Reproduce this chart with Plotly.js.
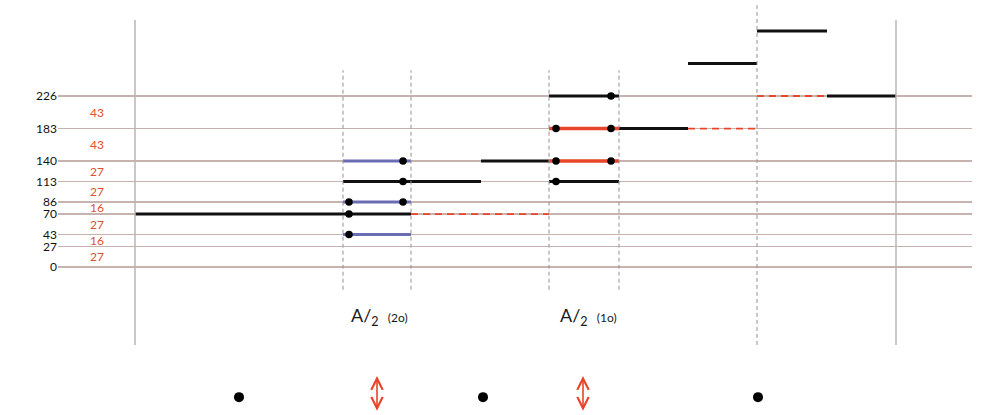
<!DOCTYPE html>
<html><head><meta charset="utf-8">
<script src="https://cdn.plot.ly/plotly-3.0.1.min.js"></script>
<style>html,body{margin:0;padding:0;background:#fff}</style>
</head><body><div id="chart" style="width:981px;height:415px"></div>
<script>
// Levels (horizontal reference lines)
const levels = [0, 27, 43, 70, 86, 113, 140, 183, 226];
// Gap labels between consecutive levels
const gapLabels = ['27', '16', '27', '16', '27', '27', '43', '43'];
// Column boundaries (horizontal positions)
const cols = [135, 343, 411, 481, 549, 619, 688, 757, 827, 896];
// Segments: start column, end column, level, kind
const segStart = [135, 411, 343, 343, 343, 343, 481, 549, 549, 549, 619, 688, 549, 688, 757, 757, 827];
const segEnd   = [411, 549, 411, 481, 411, 411, 549, 619, 619, 619, 688, 757, 619, 757, 827, 827, 896];
const segLevel = [70, 70, 140, 113, 86, 43, 140, 140, 113, 183, 183, 183, 226, 269, 312, 226, 226];
const segKind  = ['black','reddash','blue','black','blue','blue','black','red','black','red','black','reddash','black','black','black','reddash','black'];
// Dots on segments
const dotX = [403, 403, 349, 403, 349, 349, 556, 611, 556, 556, 611, 611];
const dotY = [140, 113, 86, 86, 70, 43, 140, 140, 113, 183, 183, 226];
// Bottom row markers
const bottomDotX = [239, 483, 758];
const arrowX = [377, 583];
const bottomRow = -172;
// Labels
const amplLabelX = [379, 588];
const amplLabelText = ['(2o)', '(1o)'];

const styles = {
  black:   {color: '#111', width: 3, dash: 'solid'},
  blue:    {color: '#6a6db3', width: 3, dash: 'solid'},
  red:     {color: '#e8452a', width: 3.5, dash: 'solid'},
  reddash: {color: '#e8452a', width: 1.8, dash: '7px,5px'}
};

const traces = [];
Object.keys(styles).forEach(k => {
  const xs = [], ys = [];
  segKind.forEach((kind, i) => {
    if (kind === k) { xs.push(segStart[i], segEnd[i], null); ys.push(segLevel[i], segLevel[i], null); }
  });
  traces.push({x: xs, y: ys, mode: 'lines', line: styles[k], hoverinfo: 'skip', showlegend: false});
});
traces.push({x: dotX, y: dotY, mode: 'markers', marker: {color: '#000', size: 7.5}, hoverinfo: 'skip', showlegend: false});
traces.push({x: bottomDotX, y: bottomDotX.map(() => bottomRow), mode: 'markers', marker: {color: '#000', size: 10}, hoverinfo: 'skip', showlegend: false});

const shapes = [];
// solid vertical boundaries
[cols[0], cols[9]].forEach(x => shapes.push({type: 'line', xref: 'x', yref: 'y', x0: x, x1: x, y0: -103, y1: 326.5, line: {color: '#bdb3b1', width: 1.5}}));
// dashed verticals
[cols[1], cols[2], cols[4], cols[5]].forEach(x => shapes.push({type: 'line', xref: 'x', yref: 'y', x0: x, x1: x, y0: -30, y1: 260, line: {color: '#9a9090', width: 1, dash: '4px,3px'}}));
shapes.push({type: 'line', xref: 'x', yref: 'y', x0: cols[7], x1: cols[7], y0: -103, y1: 346, line: {color: '#9a9090', width: 1, dash: '4px,3px'}});

const annotations = [];
gapLabels.forEach((t, i) => annotations.push({
  x: 97, y: (levels[i] + levels[i + 1]) / 2, xref: 'x', yref: 'y', text: t, showarrow: false,
  font: {family: 'Lato, sans-serif', size: 12, color: '#e0502e'}
}));
amplLabelX.forEach((x, i) => annotations.push({
  x: x, y: -65, xref: 'x', yref: 'y', showarrow: false,
  text: 'A/<sub>2</sub>  <span style="font-size:12px">' + amplLabelText[i] + '</span>',
  font: {family: 'Lato, sans-serif', size: 18, color: '#1a1a1a'}
}));
arrowX.forEach(x => annotations.push({
  x: x, y: -190, ax: x, ay: -142, xref: 'x', yref: 'y', axref: 'x', ayref: 'y', text: '',
  showarrow: true, arrowside: 'end+start', arrowhead: 5, arrowsize: 1.4, arrowwidth: 1.6, arrowcolor: '#e8452a'
}));

const layout = {
  width: 981, height: 415,
  margin: {l: 58, r: 9, t: 0, b: 0},
  paper_bgcolor: '#fff', plot_bgcolor: '#fff',
  xaxis: {range: [58, 972], visible: false, fixedrange: true},
  yaxis: {range: [-195.6, 352.9], tickvals: levels, ticktext: levels.map(String), showgrid: true,
    gridcolor: '#c6b3b0', gridwidth: 1.3, zeroline: false, showline: false, ticks: '',
    tickfont: {family: 'Lato, sans-serif', size: 12, color: '#111'}, fixedrange: true},
  shapes: shapes, annotations: annotations, showlegend: false
};
Plotly.newPlot('chart', traces, layout, {displayModeBar: false, staticPlot: true});
</script></body></html>
